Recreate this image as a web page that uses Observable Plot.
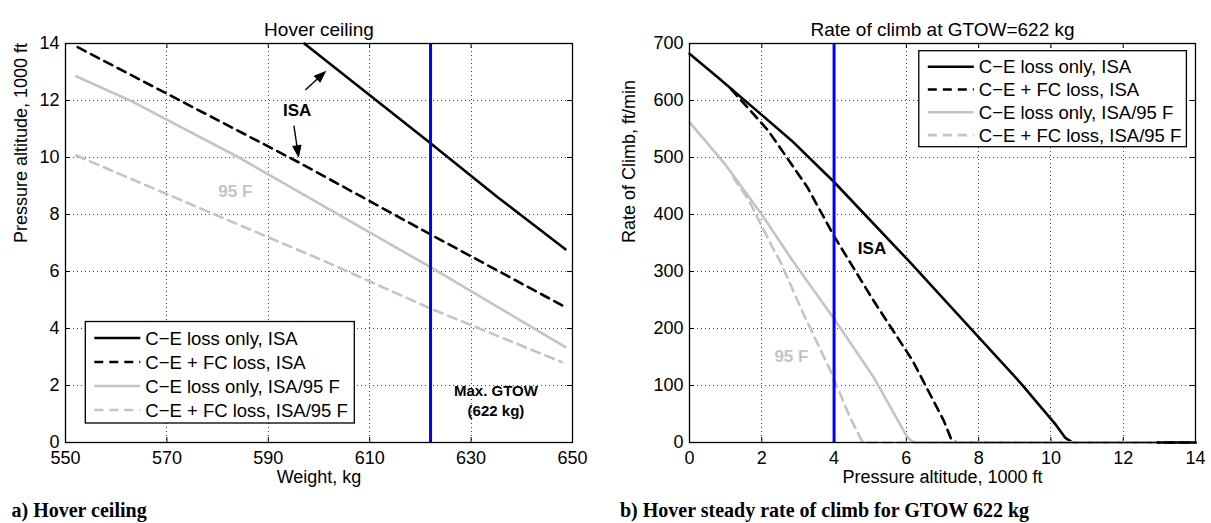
<!DOCTYPE html>
<html><head><meta charset="utf-8">
<script src="https://cdn.jsdelivr.net/npm/d3@7"></script>
<script src="https://cdn.jsdelivr.net/npm/@observablehq/plot@0.6"></script>
<style>
html,body{margin:0;padding:0;background:#fff;}
#wrap{position:relative;width:1211px;height:523px;overflow:hidden;}
#wrap svg{position:absolute;top:0;}
.caption{position:absolute;top:500px;font-family:"Liberation Serif","Times New Roman",serif;font-weight:bold;font-size:20px;line-height:1;white-space:nowrap;color:#000;}
</style></head><body><div id="wrap"></div>
<script>
// ---------------- data ----------------
const weightTicks = [550, 570, 590, 610, 630, 650];
const ceilAltTicks = [0, 2, 4, 6, 8, 10, 12, 14];
const climbAltTicks = [0, 2, 4, 6, 8, 10, 12, 14];
const climbRateTicks = [0, 100, 200, 300, 400, 500, 600, 700];

const seriesNames = ["C−E loss only, ISA", "C−E + FC loss, ISA", "C−E loss only, ISA/95 F", "C−E + FC loss, ISA/95 F"];

// a) Hover ceiling: weight (kg) vs pressure altitude (1000 ft)
const ceilWeightCeISA = [597.1, 622, 635.3, 648.6];
const ceilAltCeISA = [14, 10.5, 8.6, 6.78];
const ceilWeightFcISA = [552.4, 596, 622, 648.6];
const ceilAltFcISA = [13.87, 9.83, 7.3, 4.75];
const ceilWeightCe95 = [552.1, 563, 584.2, 622, 648.6];
const ceilAltCe95 = [12.85, 11.98, 10.0, 6.15, 3.35];
const ceilWeightFc95 = [552.1, 600.6, 622, 647.9];
const ceilAltFc95 = [10.07, 6.4, 4.7, 2.82];

// b) Rate of climb at GTOW: pressure altitude (1000 ft) vs rate of climb (ft/min)
const climbAltCeISA = [0, 0.78, 2.82, 4.0, 6.06, 9.18, 10.15, 10.4, 10.6, 14];
const climbRateCeISA = [682, 641, 530, 457, 319, 103, 30, 8, 0, 0];
const climbAltFcISA = [1.15, 2.18, 3.26, 4.0, 5.09, 6.17, 7.03, 7.24, 7.38, 14];
const climbRateFcISA = [620, 547, 448, 362, 249, 144, 39, 6, 0, 0];
const climbAltCe95 = [0, 1.0, 2.0, 2.82, 4.0, 5.09, 6.0, 6.15, 6.3, 12.9];
const climbRateCe95 = [562, 487, 400, 322, 217, 115, 12, 2, 0, 0];
const climbAltFc95 = [1.21, 1.64, 2.29, 2.5, 3.15, 3.9, 4.44, 4.76, 4.85, 12.9];
const climbRateFc95 = [465, 425, 343, 319, 226, 126, 44, 4, 0, 0];

const gtowKg = 622;
const climbMarkAlt = 4;

// annotations (data coordinates)
const ceilNotes = [
  {x: 595.7, y: 11.63, text: "ISA", color: "#000"},
  {x: 583.5, y: 8.8, text: "95 F", color: "#c4c4c4"}
];
const ceilArrows = [
  {x1: 597.3, y1: 12.37, x2: 601.25, y2: 13.01},
  {x1: 595.05, y1: 11.12, x2: 595.96, y2: 10.03}
];
const ceilGtowNote = {x: 634.9, y: 1.5, text: "Max. GTOW\n(622 kg)"};
const climbNotes = [
  {x: 5.05, y: 340, text: "ISA", color: "#000"},
  {x: 2.82, y: 150, text: "95 F", color: "#c4c4c4"}
];

// ---------------- styles ----------------
const FONT = "'Liberation Sans', Arial, Helvetica, sans-serif";
const seriesStyle = [
  {stroke: "#000", dash: null},
  {stroke: "#000", dash: "9,6"},
  {stroke: "#c4c4c4", dash: null},
  {stroke: "#c4c4c4", dash: "9,6"}
];
const LINE_W = 2.6;

function zip(xs, ys) { return xs.map((x, i) => ({x, y: ys[i]})); }

function buildPanel(cfg) {
  const {W, H, m, xDomain, yDomain, xTicks, yTicks, series, marker, notes, arrows, extraMarks, title, xLabel, yLabel, yLabelDx} = cfg;
  const pw = W - m.left - m.right, ph = H - m.top - m.bottom;
  const xs = Plot.scale({x: {domain: xDomain, range: [m.left, W - m.right]}});
  const ys = Plot.scale({y: {domain: yDomain, range: [H - m.bottom, m.top]}});

  const arrowMarks = [];
  (arrows || []).forEach(a => {
    const tx = xs.apply(a.x1), ty = ys.apply(a.y1), px = xs.apply(a.x2), py = ys.apply(a.y2);
    const len = Math.hypot(px - tx, py - ty);
    const ux = (px - tx) / len, uy = (py - ty) / len;
    const L = 11, hw = 4.2;
    const bx = px - L * ux, by = py - L * uy;
    const tri = [
      {x: xs.invert(px), y: ys.invert(py)},
      {x: xs.invert(bx - hw * uy), y: ys.invert(by + hw * ux)},
      {x: xs.invert(bx + hw * uy), y: ys.invert(by - hw * ux)},
      {x: xs.invert(px), y: ys.invert(py)}
    ];
    arrowMarks.push(Plot.link([a], {x1: "x1", y1: "y1", x2: d => xs.invert(bx + 2 * ux), y2: d => ys.invert(by + 2 * uy), stroke: "#000", strokeWidth: 1.4}));
    arrowMarks.push(Plot.line(tri, {x: "x", y: "y", fill: "#000", stroke: "#000", strokeWidth: 1}));
  });

  const gridStyle = {stroke: "#000", strokeWidth: 1, strokeDasharray: "1,3", shapeRendering: "crispEdges", strokeOpacity: 0.75};

  const svg = Plot.plot({
    width: W, height: H,
    marginTop: m.top, marginRight: m.right, marginBottom: m.bottom, marginLeft: m.left,
    style: {fontFamily: FONT, fontSize: "18px", background: "transparent", overflow: "visible", color: "#000"},
    x: {domain: xDomain, ticks: xTicks, tickSize: 0, tickPadding: 9, label: null},
    y: {domain: yDomain, ticks: yTicks, tickSize: 0, tickPadding: 6, label: null},
    marks: [
      Plot.ruleX(xTicks, gridStyle),
      Plot.ruleY(yTicks, gridStyle),
      Plot.tickX(xTicks, {x: d => d, insetTop: ph - 5, stroke: "#000"}),
      Plot.tickX(xTicks, {x: d => d, insetBottom: ph - 5, stroke: "#000"}),
      Plot.tickY(yTicks, {y: d => d, insetRight: pw - 5, stroke: "#000"}),
      Plot.tickY(yTicks, {y: d => d, insetLeft: pw - 5, stroke: "#000"}),
      ...series.map((s, i) => Plot.line(s, {x: "x", y: "y", stroke: seriesStyle[i].stroke, strokeWidth: LINE_W, strokeDasharray: seriesStyle[i].dash, strokeLinejoin: "round"})),
      Plot.ruleX([marker], {stroke: "#0000ff", strokeWidth: 3}),
      Plot.frame({stroke: "#000", strokeWidth: 1.3}),
      ...notes.map(n => Plot.text([n], {x: "x", y: "y", text: "text", fill: n.color, fontWeight: "bold", fontSize: 17})),
      ...arrowMarks,
      ...(extraMarks || []),
      Plot.text([title], {text: d => d, frameAnchor: "top", dy: -21.5, fontSize: 19}),
      Plot.text([xLabel], {text: d => d, frameAnchor: "bottom", dy: 40, fontSize: 18}),
      Plot.text([yLabel], {text: d => d, frameAnchor: "left", dx: yLabelDx, rotate: -90, fontSize: 18})
    ]
  });
  return svg;
}

function addLegend(svg, bx, by, bw, bh, row0, rowStep) {
  const g = d3.select(svg).append("g").attr("font-family", FONT).attr("font-size", 18.5).attr("text-anchor", "start");
  g.append("rect").attr("x", bx).attr("y", by).attr("width", bw).attr("height", bh)
    .attr("fill", "#fff").attr("stroke", "#000").attr("stroke-width", 1.3);
  seriesNames.forEach((name, i) => {
    const yy = by + row0 + i * rowStep;
    g.append("line").attr("x1", bx + 9).attr("x2", bx + 55).attr("y1", yy).attr("y2", yy)
      .attr("stroke", seriesStyle[i].stroke).attr("stroke-width", LINE_W)
      .attr("stroke-dasharray", seriesStyle[i].dash);
    g.append("text").attr("x", bx + 60).attr("y", yy).attr("dy", "0.36em")
      .attr("text-anchor", "start").attr("fill", "#000").text(name);
  });
}

const wrap = document.getElementById("wrap");

// ---- panel a ----
const svgA = buildPanel({
  W: 605, H: 490, m: {top: 43, right: 33, bottom: 48, left: 65},
  xDomain: [550, 650], yDomain: [0, 14], xTicks: weightTicks, yTicks: ceilAltTicks,
  series: [zip(ceilWeightCeISA, ceilAltCeISA), zip(ceilWeightFcISA, ceilAltFcISA), zip(ceilWeightCe95, ceilAltCe95), zip(ceilWeightFc95, ceilAltFc95)],
  marker: gtowKg, notes: ceilNotes, arrows: ceilArrows,
  extraMarks: [Plot.text([ceilGtowNote], {x: "x", y: "y", text: "text", fontWeight: "bold", fontSize: 15, lineHeight: 1.3, fill: "#000"})],
  title: "Hover ceiling", xLabel: "Weight, kg", yLabel: "Pressure altitude, 1000 ft", yLabelDx: -44
});
svgA.style.left = "0px";
wrap.appendChild(svgA);
addLegend(svgA, 85.3, 321.5, 269, 101.5, 16.5, 24);

// ---- panel b ----
const svgB = buildPanel({
  W: 606, H: 490, m: {top: 43, right: 16, bottom: 48, left: 84},
  xDomain: [0, 14], yDomain: [0, 700], xTicks: climbAltTicks, yTicks: climbRateTicks,
  series: [zip(climbAltCeISA, climbRateCeISA), zip(climbAltFcISA, climbRateFcISA), zip(climbAltCe95, climbRateCe95), zip(climbAltFc95, climbRateFc95)],
  marker: climbMarkAlt, notes: climbNotes, arrows: [],
  title: "Rate of climb at GTOW=622 kg", xLabel: "Pressure altitude, 1000 ft", yLabel: "Rate of Climb, ft/min", yLabelDx: -60
});
svgB.style.left = "605px";
wrap.appendChild(svgB);
addLegend(svgB, 313.8, 50.7, 267.6, 96, 16, 22.8);

// ---- captions ----
const capA = document.createElement("div");
capA.className = "caption"; capA.style.left = "11.5px"; capA.textContent = "a) Hover ceiling";
const capB = document.createElement("div");
capB.className = "caption"; capB.style.left = "620px"; capB.textContent = "b) Hover steady rate of climb for GTOW 622 kg";
wrap.appendChild(capA); wrap.appendChild(capB);
</script></body></html>
